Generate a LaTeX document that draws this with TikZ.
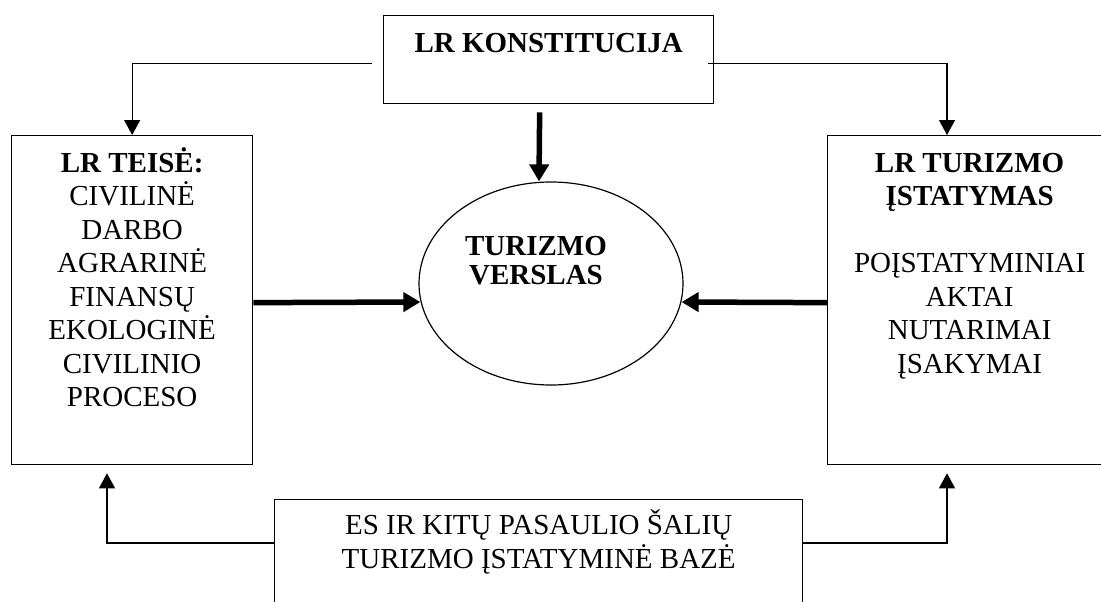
\documentclass[tikz,border=0pt]{standalone}
\usepackage{fontspec}
\setmainfont{Liberation Serif}
\usetikzlibrary{arrows.meta,shapes.geometric}

\tikzset{
  box/.style={draw, line width=1.3pt, inner sep=0pt, anchor=north west},
  txt/.style={align=center, inner sep=0pt, anchor=base, font=\fontsize{29}{33.5}\selectfont},
  link/.style={line width=1.2pt, -{Triangle[width=16pt,length=15pt]}},
  biglink/.style={line width=5.5pt, -{Triangle[width=19pt,length=17pt]}}
}

\begin{document}
\begin{tikzpicture}[x=1pt, y=-1pt]
\clip (0,0) rectangle (1101,602);

% boxes
\node[box, minimum width=330pt, minimum height=88pt] (konst) at (383,15) {};
\node[box, minimum width=241pt, minimum height=329pt] (teise) at (11,135) {};
\node[box, minimum width=284pt, minimum height=329pt] (turizmas) at (827,135) {};
\node[box, minimum width=528pt, minimum height=140pt] (esbaze) at (274,499) {};
\node[draw, ellipse, line width=1.2pt, inner sep=0pt, minimum width=264pt, minimum height=203pt] (verslas) at (551,283.5) {};

% texts (base = last line)
\node[txt] (konsttxt) at ([yshift=-38pt]konst.north) {\textbf{LR KONSTITUCIJA}};
\node[txt] (teisetxt) at ([yshift=-271.5pt]teise.north) {\textbf{LR TEISĖ:}\\CIVILINĖ\\DARBO\\AGRARINĖ\\FINANSŲ\\EKOLOGINĖ\\CIVILINIO\\PROCESO};
\node[txt] (turizmastxt) at ([yshift=-238pt]turizmas.north) {\textbf{LR TURIZMO}\\\textbf{ĮSTATYMAS}\\[33.5pt]POĮSTATYMINIAI\\AKTAI\\NUTARIMAI\\ĮSAKYMAI};
\node[txt] (esbazetxt) at ([yshift=-69pt]esbaze.north) {ES IR KITŲ PASAULIO ŠALIŲ\\TURIZMO ĮSTATYMINĖ BAZĖ};
\node[txt, font=\fontsize{29}{29}\selectfont] (verslastxt) at ([shift={(-15pt,-0.5pt)}]verslas.center) {\textbf{TURIZMO}\\\textbf{VERSLAS}};

% connectors
\draw[link] ([shift={(-11pt,-3.7pt)}]konst.west) -| (teise.north);
\draw[link] ([shift={(-6pt,-3.7pt)}]konst.east) -| ([xshift=120pt]turizmas.north west);
\draw[biglink] ([shift={(-9pt,-8pt)}]konst.south) -- ([xshift=-12pt]verslas.north);
\draw[biglink] ([yshift=-2.5pt]teise.east) -- ([shift={(2pt,-18.5pt)}]verslas.west);
\draw[biglink] ([yshift=-2.5pt]turizmas.west) -- ([shift={(-2pt,-18.5pt)}]verslas.east);
\draw[link] ([yshift=-44pt]esbaze.north west) -| ([shift={(96pt,-8pt)}]teise.south west);
\draw[link] ([yshift=-44pt]esbaze.north east) -| ([shift={(120pt,-8pt)}]turizmas.south west);
\end{tikzpicture}
\end{document}
